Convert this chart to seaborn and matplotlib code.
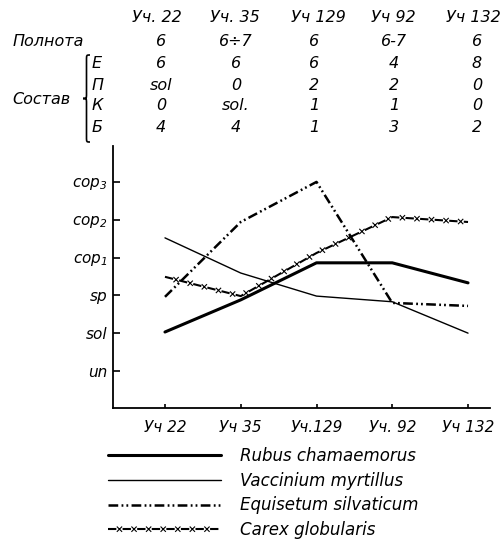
import numpy as np
import matplotlib
matplotlib.use("Agg")
from matplotlib import pyplot as plt
from matplotlib.path import Path
from matplotlib.patches import PathPatch
from matplotlib.transforms import Affine2D
import matplotlib.patheffects as pe
import seaborn as sns

# sites along the x axis
sites = ["Уч 22", "Уч 35", "Уч.129", "Уч. 92", "Уч 132"]

# abundance scale (Drude): un=0, sol=1, sp=2, cop1=3, cop2=4, cop3=5
abund_labels = ["un", "sol", "sp", "cop$_1$", "cop$_2$", "cop$_3$"]

rubus = [1.03, 1.88, 2.86, 2.86, 2.33]
vaccinium = [3.52, 2.59, 1.98, 1.83, 1.0]
equisetum = [1.96, 3.94, 5.0, 1.8, 1.72]
carex = [2.49, 1.98, 3.12, 4.07, 3.94]

# table above the chart
table_head = ["Уч. 22", "Уч. 35", "Уч 129", "Уч 92", "Уч 132"]
polnota = ["6", "6÷7", "6", "6-7", "6"]
sostav_names = ["Е", "П", "К", "Б"]
sostav_E = ["6", "6", "6", "4", "8"]
sostav_P = ["sol", "0", "2", "2", "0"]
sostav_K = ["0", "sol.", "1", "1", "0"]
sostav_B = ["4", "4", "1", "3", "2"]

sns.set_style("white")
plt.rcParams['font.family'] = ['DejaVu Sans']
plt.rcParams['font.style'] = 'italic'
plt.rcParams['text.color'] = 'k'
plt.rcParams['xtick.color'] = 'k'
plt.rcParams['ytick.color'] = 'k'
plt.rcParams['lines.scale_dashes'] = False

W, H = 502, 552
DPI = 100


def fpos(x, y):
    # pixel position (from top-left) -> figure fraction
    return x / W, 1 - y / H


class CrossStroke(pe.AbstractPathEffect):
    """small x marks placed in the gaps of a dashed line"""

    def __init__(self, first, step, size=1.9, lw=0.8):
        super().__init__()
        self.first = first
        self.step = step
        self.size = size
        self.lw = lw

    def draw_path(self, renderer, gc, tpath, affine, rgbFace=None):
        verts = affine.transform(tpath.vertices)
        seg = np.diff(verts, axis=0)
        cum = np.concatenate([[0], np.cumsum(np.hypot(seg[:, 0], seg[:, 1]))])
        p2p = renderer.points_to_pixels(1)
        d = np.arange(self.first * p2p, cum[-1], self.step * p2p)
        xs = np.interp(d, cum, verts[:, 0])
        ys = np.interp(d, cum, verts[:, 1])
        s = self.size * p2p
        pts, codes = [], []
        for x, y in zip(xs, ys):
            pts += [(x - s, y - s), (x + s, y + s), (x - s, y + s), (x + s, y - s)]
            codes += [Path.MOVETO, Path.LINETO, Path.MOVETO, Path.LINETO]
        if not pts:
            return
        gc0 = renderer.new_gc()
        gc0.copy_properties(gc)
        gc0.set_linewidth(self.lw)
        gc0.set_dashes(0, None)
        renderer.draw_path(gc0, Path(pts, codes), Affine2D())
        gc0.restore()


fig = plt.figure(figsize=(W / DPI, H / DPI), dpi=DPI)
ax = fig.add_axes([113 / W, 1 - 408 / H, (490 - 113) / W, (408 - 146) / H])

sns.lineplot(x=sites, y=rubus, ax=ax, color='k', linewidth=2.2, label='Rubus chamaemorus')
sns.lineplot(x=sites, y=vaccinium, ax=ax, color='k', linewidth=1.0, label='Vaccinium myrtillus')
sns.lineplot(x=sites, y=equisetum, ax=ax, color='k', linewidth=1.8, label='Equisetum silvaticum')
sns.lineplot(x=sites, y=carex, ax=ax, color='k', linewidth=1.5, label='Carex globularis')

ax.lines[2].set_dashes((7, 2.4, 1.3, 2.2, 1.3, 2.4))
on, off = 6.0, 4.5
ax.lines[3].set_dashes((on, off))
ax.lines[3].set_path_effects([pe.Normal(), CrossStroke(on + off / 2, on + off)])

ax.set_xlim(-0.686, 4.29)
ax.set_ylim(-0.98, 5.95)
ax.set_yticks(range(len(abund_labels)))
ax.set_yticklabels(abund_labels, fontsize=11)
ax.set_xticks(range(len(sites)))
ax.set_xticklabels(sites, fontsize=11)
ax.tick_params(axis='y', direction='in', length=5, width=1.2, pad=4, left=True)
ax.tick_params(axis='x', direction='in', length=3, width=1.2, pad=9, bottom=True)
sns.despine(ax=ax)
for sp in ['left', 'bottom']:
    ax.spines[sp].set_linewidth(1.3)
    ax.spines[sp].set_color('k')
ax.set_xlabel('')
ax.set_ylabel('')

leg = ax.legend(loc='upper left', bbox_to_anchor=fpos(108, 447), bbox_transform=fig.transFigure,
                frameon=False, fontsize=12, handlelength=6.8, handletextpad=1.1,
                labelspacing=0.4, borderpad=0, borderaxespad=0)

# table above the chart
col_head = [157, 235, 318, 393, 473]
col_val = [161, 236, 314, 394, 477]
fs = 11.5
for x, t in zip(col_head, table_head):
    fig.text(*fpos(x, 17), t, ha='center', va='center', fontsize=fs)

fig.text(*fpos(13, 41), "Полнота", ha='left', va='center', fontsize=fs)
for x, t in zip(col_val, polnota):
    fig.text(*fpos(x, 41), t, ha='center', va='center', fontsize=fs)

fig.text(*fpos(12, 99), "Состав", ha='left', va='center', fontsize=fs)
rows_y = [64, 85, 106, 127]
for y, name, vals in zip(rows_y, sostav_names, [sostav_E, sostav_P, sostav_K, sostav_B]):
    fig.text(*fpos(92, y), name, ha='left', va='center', fontsize=fs)
    for x, t in zip(col_val, vals):
        fig.text(*fpos(x, y), t, ha='center', va='center', fontsize=fs)

# curly brace
bx, bw, y0, y1 = 83, 7, 55, 142
ym = (y0 + y1) / 2
dd = 5
verts = [(bx + bw, y0),
         (bx + bw / 2, y0), (bx + bw / 2, y0), (bx + bw / 2, y0 + dd),
         (bx + bw / 2, ym - dd),
         (bx + bw / 2, ym), (bx + bw / 2, ym), (bx, ym),
         (bx + bw / 2, ym), (bx + bw / 2, ym), (bx + bw / 2, ym + dd),
         (bx + bw / 2, y1 - dd),
         (bx + bw / 2, y1), (bx + bw / 2, y1), (bx + bw, y1)]
codes = [Path.MOVETO] + [Path.CURVE4] * 3 + [Path.LINETO] + [Path.CURVE4] * 6 + [Path.LINETO] + [Path.CURVE4] * 3
brace = Path([fpos(x, y) for x, y in verts], codes)
fig.add_artist(PathPatch(brace, transform=fig.transFigure, fill=False, lw=1.2, color='k'))

fig.savefig("out.png", dpi=DPI)
